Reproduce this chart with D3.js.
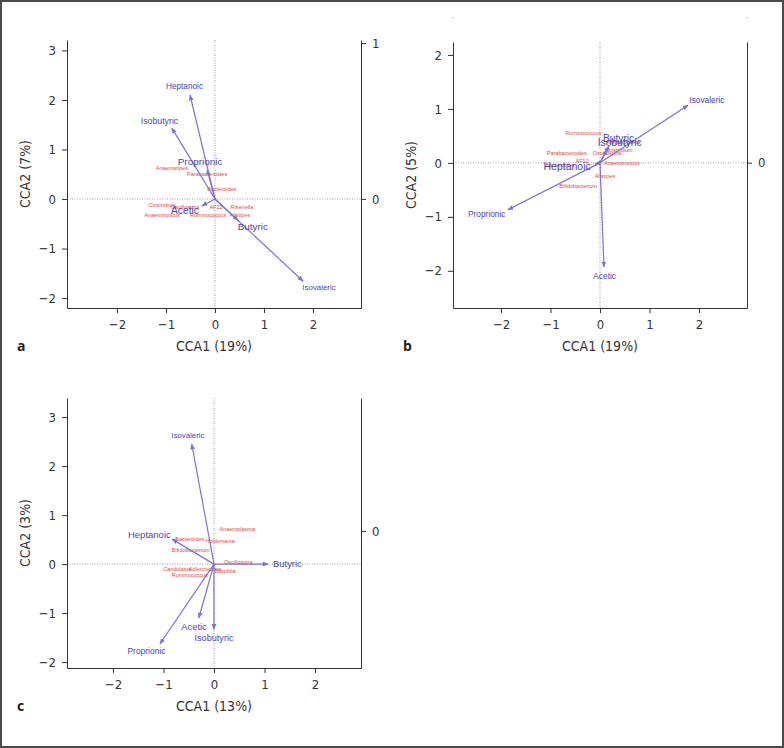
<!DOCTYPE html>
<html><head><meta charset="utf-8">
<script src="https://cdn.jsdelivr.net/npm/d3@7"></script>
<style>
html,body{margin:0;padding:0;background:#fff;}
svg{display:block;}
.tick text{font-family:'Liberation Sans Narrow','DejaVu Sans Condensed','Open Sans',sans-serif;font-size:13px;fill:#333;}
.tick line,.domain{stroke:#333;}
</style></head>
<body>
<svg id="chart" width="784" height="748"></svg>
<script>
// ---------- DATA ----------
const xTicks = [-2, -1, 0, 1, 2];
const yTicksA = [-2, -1, 0, 1, 2, 3];
const yTicksB = [-2, -1, 0, 1, 2];
const yTicksC = [-2, -1, 0, 1, 2, 3];
const rightTicksA = [0, 1];
const rightTicksB = [0];
const rightTicksC = [0];

// Panel a
const aArrowNames = ["Heptanoic", "Isobutyric", "Proprionic", "Butyric", "Isovaleric", "Acetic"];
const aArrowX = [-0.51, -0.88, -0.16, 0.47, 1.80, -0.27];
const aArrowY = [2.10, 1.43, 0.59, -0.43, -1.66, -0.14];
const aSpeciesNames = ["Anaerostipes", "Parabacteroides", "Bacteroides", "Clostridium", "Oscillospira", "AF12", "Rikenella", "Anaerotruncus", "Ruminococcus", "Alistipes"];
const aSpeciesX = [-0.88, -0.16, 0.14, -1.08, -0.61, 0.02, 0.55, -1.08, -0.14, 0.51];
const aSpeciesY = [0.63, 0.51, 0.20, -0.12, -0.16, -0.16, -0.16, -0.32, -0.32, -0.32];

// Panel b
const bArrowNames = ["Isovaleric", "Proprionic", "Acetic", "Butyric", "Isobutyric", "Heptanoic"];
const bArrowX = [1.78, -1.86, 0.08, 0.18, 0.14, -0.10];
const bArrowY = [1.07, -0.87, -1.93, 0.31, 0.24, -0.02];
const bSpeciesNames = ["Ruminococcus", "Megasphaera", "Clostridium", "Oscillospira", "Parabacteroides", "AF12", "Bacteroides", "Anaerotruncus", "Alistipes", "Bifidobacterium"];
const bSpeciesX = [-0.34, 0.48, 0.38, 0.14, -0.67, -0.36, -0.81, 0.44, 0.10, -0.44];
const bSpeciesY = [0.56, 0.39, 0.24, 0.19, 0.19, 0.04, -0.04, 0.00, -0.24, -0.43];

// Panel c
const cArrowNames = ["Isovaleric", "Heptanoic", "Butyric", "Proprionic", "Acetic", "Isobutyric"];
const cArrowX = [-0.44, -0.83, 1.07, -1.07, -0.30, 0.00];
const cArrowY = [2.45, 0.51, 0.00, -1.63, -1.10, -1.33];
const cSpeciesNames = ["Anaeroplasma", "Bacteroides", "Holdemania", "Bifidobacterium", "Oscillospira", "Candidatus", "Adlercreutzia", "Bilophila", "Ruminococcus"];
const cSpeciesX = [0.46, -0.48, 0.12, -0.46, 0.48, -0.73, -0.18, 0.22, -0.48];
const cSpeciesY = [0.71, 0.51, 0.47, 0.29, 0.04, -0.10, -0.10, -0.14, -0.22];

// ---------- LAYOUT ----------
const svg = d3.select("#chart");
const ARROW = "#7b73cf", ARROWTXT = "#4e44b3", RED = "#e8453c";
const FONT = "'Liberation Sans Narrow','DejaVu Sans Condensed','Open Sans',sans-serif";

svg.append("rect").attr("x", 1).attr("y", 1).attr("width", 782).attr("height", 746)
  .attr("fill", "none").attr("stroke", "#4a4a4a").attr("stroke-width", 2);

const defs = svg.append("defs");
defs.append("marker").attr("id", "ah").attr("viewBox", "0 0 10 10")
  .attr("refX", 9).attr("refY", 5).attr("markerWidth", 5).attr("markerHeight", 5)
  .attr("orient", "auto").append("path").attr("d", "M0,1 L10,5 L0,9 Z").attr("fill", ARROW);

function panel(cfg) {
  const x = d3.scaleLinear().domain(cfg.xDom).range([cfg.left, cfg.right]);
  const y = d3.scaleLinear().domain(cfg.yDom).range([cfg.bottom, cfg.top]);
  const yr = d3.scaleLinear().domain(cfg.rDom).range([cfg.bottom, cfg.top]);
  const g = svg.append("g");

  // dotted zero lines
  g.append("line").attr("x1", x(0)).attr("x2", x(0)).attr("y1", cfg.top).attr("y2", cfg.bottom)
    .attr("stroke", "#9a9a9a").attr("stroke-dasharray", "1,1.5");
  g.append("line").attr("x1", cfg.left).attr("x2", cfg.right).attr("y1", y(0)).attr("y2", y(0))
    .attr("stroke", "#9a9a9a").attr("stroke-dasharray", "1,1.5");

  // axes
  const fmt = d3.format("d");
  g.append("g").attr("transform", `translate(0,${cfg.bottom})`)
    .call(d3.axisBottom(x).tickValues(xTicks).tickFormat(fmt).tickSize(5).tickPadding(7).tickSizeOuter(0));
  g.append("g").attr("transform", `translate(${cfg.left},0)`)
    .call(d3.axisLeft(y).tickValues(cfg.yTicks).tickFormat(fmt).tickSize(5).tickPadding(6).tickSizeOuter(0));
  g.append("g").attr("transform", `translate(${cfg.right},0)`)
    .call(d3.axisRight(yr).tickValues(cfg.rTicks).tickFormat(fmt).tickSize(5).tickPadding(6).tickSizeOuter(0));
  g.selectAll(".domain").attr("stroke", "#333");

  // titles
  g.append("text").attr("x", (cfg.left + cfg.right) / 2).attr("y", cfg.bottom + 43)
    .attr("text-anchor", "middle").attr("font-family", FONT).attr("font-size", 14).attr("fill", "#333")
    .text(cfg.xTitle);
  g.append("text").attr("transform", `translate(${cfg.left - 37},${(cfg.top + cfg.bottom) / 2}) rotate(-90)`)
    .attr("text-anchor", "middle").attr("font-family", FONT).attr("font-size", 14).attr("fill", "#333")
    .text(cfg.yTitle);
  g.append("text").attr("x", cfg.letterX).attr("y", cfg.bottom + 43)
    .attr("font-family", "'Open Sans',sans-serif").attr("font-weight", "bold").attr("font-size", 14).attr("fill", "#222")
    .text(cfg.letter);

  // species (red)
  g.selectAll(".sp").data(cfg.spNames).join("text")
    .attr("x", (d, i) => x(cfg.spX[i])).attr("y", (d, i) => y(cfg.spY[i]))
    .attr("text-anchor", "middle").attr("dy", "0.35em")
    .attr("font-family", "'Liberation Sans',Arial,sans-serif").attr("font-size", 5.5).attr("fill", RED)
    .text(d => d);

  // arrows
  const arr = cfg.arNames.map((n, i) => ({ n, vx: cfg.arX[i], vy: cfg.arY[i] }));
  g.selectAll(".ar").data(arr).join("line")
    .attr("x1", x(0)).attr("y1", y(0))
    .attr("x2", d => x(d.vx)).attr("y2", d => y(d.vy))
    .attr("stroke", ARROW).attr("stroke-width", 1.2).attr("marker-end", "url(#ah)");

  g.selectAll(".al").data(arr).join("text")
    .attr("font-family", "'Liberation Sans',Arial,sans-serif")
    .attr("font-size", d => Math.max(7.5, Math.min(10.5, 10.6 - 1.1 * Math.hypot(d.vx, d.vy))))
    .attr("fill", ARROWTXT).attr("text-anchor", "middle").attr("dy", "0.35em")
    .text(d => d.n)
    .each(function (d) {
      const tx = x(d.vx), ty = y(d.vy);
      const dx = tx - x(0), dy = ty - y(0);
      const L = Math.hypot(dx, dy) || 1;
      const ux = dx / L, uy = dy / L;
      const w = this.getComputedTextLength(), h = 8;
      d3.select(this).attr("x", tx + ux * 5 + ux * w / 2).attr("y", ty + uy * 5 + uy * h / 2);
    });
}

panel({ left: 67, right: 361, top: 40, bottom: 308, xDom: [-3.02, 2.98], yDom: [-2.2, 3.21], rDom: [-0.70, 1.02],
  yTicks: yTicksA, rTicks: rightTicksA, xTitle: "CCA1 (19%)", yTitle: "CCA2 (7%)", letter: "a", letterX: 17,
  arNames: aArrowNames, arX: aArrowX, arY: aArrowY, spNames: aSpeciesNames, spX: aSpeciesX, spY: aSpeciesY });

panel({ left: 453, right: 747, top: 42, bottom: 308, xDom: [-2.97, 2.97], yDom: [-2.69, 2.24], rDom: [-1.0, 0.83],
  yTicks: yTicksB, rTicks: rightTicksB, xTitle: "CCA1 (19%)", yTitle: "CCA2 (5%)", letter: "b", letterX: 403,
  arNames: bArrowNames, arX: bArrowX, arY: bArrowY, spNames: bSpeciesNames, spX: bSpeciesX, spY: bSpeciesY });

panel({ left: 67, right: 361, top: 398, bottom: 668, xDom: [-2.91, 2.91], yDom: [-2.12, 3.39], rDom: [-1.0, 0.97],
  yTicks: yTicksC, rTicks: rightTicksC, xTitle: "CCA1 (13%)", yTitle: "CCA2 (3%)", letter: "c", letterX: 17,
  arNames: cArrowNames, arX: cArrowX, arY: cArrowY, spNames: cSpeciesNames, spX: cSpeciesX, spY: cSpeciesY });

// tiny tick remnants above panel b
[453, 747].forEach(px => svg.append("line").attr("x1", px).attr("x2", px).attr("y1", 17).attr("y2", 19)
  .attr("stroke", "#bbb").attr("stroke-width", 1));
</script>
</body></html>
